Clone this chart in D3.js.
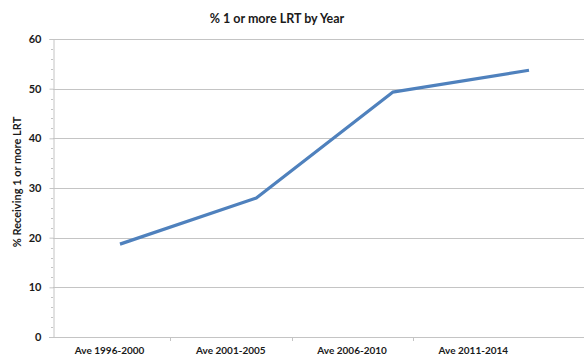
<!DOCTYPE html>
<html>
<head>
<meta charset="utf-8">
<script src="https://cdn.jsdelivr.net/npm/d3@7/dist/d3.min.js"></script>
<style>
  html, body { margin: 0; padding: 0; background: #fff; }
  svg { display: block; }
  text { font-family: Lato, "Open Sans", sans-serif; font-weight: bold; fill: #1a1a1a; }
</style>
</head>
<body>
<svg id="chart" width="584" height="356"></svg>
<script>
// Period averages
const categories = ["Ave 1996-2000", "Ave 2001-2005", "Ave 2006-2010", "Ave 2011-2014"];
const values = [18.7, 28.0, 49.3, 53.7];
const yTicks = [0, 10, 20, 30, 40, 50, 60];
const yMinorTicks = d3.range(0, 61, 2);
const title = "% 1 or more LRT by Year";
const yTitle = "% Receiving 1 or more LRT";

const svg = d3.select("#chart");
const plot = { left: 53, right: 584, top: 39, bottom: 337 };

const y = d3.scaleLinear().domain([0, 60]).range([plot.bottom, plot.top]);
// Category bands for the axis labels
const xBand = d3.scaleBand().domain(categories).range([49, 534]).padding(0);
// Positions of the plotted points along the category axis
const xPoint = d3.scalePoint().domain(categories).range([120, 529]);

// Horizontal gridlines
svg.append("g")
  .selectAll("line")
  .data(yTicks.filter(d => d > 0))
  .join("line")
  .attr("x1", plot.left).attr("x2", plot.right)
  .attr("y1", d => Math.round(y(d)) + 0.5).attr("y2", d => Math.round(y(d)) + 0.5)
  .attr("stroke", "#c4c4c4").attr("stroke-width", 1);

// Y axis: minor ticks
svg.append("g")
  .selectAll("line")
  .data(yMinorTicks.filter(d => d % 10 !== 0))
  .join("line")
  .attr("x1", plot.left - 2).attr("x2", plot.left)
  .attr("y1", d => Math.round(y(d)) + 0.5).attr("y2", d => Math.round(y(d)) + 0.5)
  .attr("stroke", "#c4c4c4");

// Y axis: main line, ticks and labels
const yAxis = d3.axisLeft(y).tickValues(yTicks).tickSize(4).tickPadding(8).tickFormat(d3.format("d"));
const gy = svg.append("g").attr("transform", `translate(${plot.left + 0.5},0)`).call(yAxis);
gy.select(".domain").attr("stroke", "#c4c4c4");
gy.selectAll(".tick line").attr("stroke", "#c4c4c4");
gy.selectAll(".tick text").attr("font-size", 11).attr("font-family", "Lato, sans-serif").attr("fill", "#1a1a1a");

// X axis baseline extending across the plot
svg.append("line")
  .attr("x1", 49).attr("x2", plot.right)
  .attr("y1", Math.round(y(0)) + 0.5).attr("y2", Math.round(y(0)) + 0.5)
  .attr("stroke", "#c4c4c4");

// X axis: ticks at band edges
const edges = categories.map(c => xBand(c)).slice(1);
svg.append("g")
  .selectAll("line")
  .data(edges)
  .join("line")
  .attr("x1", d => Math.round(d) + 0.5).attr("x2", d => Math.round(d) + 0.5)
  .attr("y1", Math.round(y(0))).attr("y2", Math.round(y(0)) + 4)
  .attr("stroke", "#c4c4c4");

// X axis labels
svg.append("g")
  .selectAll("text")
  .data(categories)
  .join("text")
  .attr("x", d => xBand(d) + xBand.bandwidth() / 2)
  .attr("y", 354)
  .attr("text-anchor", "middle")
  .attr("font-size", 10)
  .text(d => d);

// Series line
const line = d3.line()
  .x((d, i) => xPoint(categories[i]))
  .y(d => y(d));
svg.append("path")
  .datum(values)
  .attr("d", line)
  .attr("fill", "none")
  .attr("stroke", "#4F81BD")
  .attr("stroke-width", 3.2)
  .attr("stroke-linejoin", "round");

// Title
svg.append("text")
  .attr("x", 277).attr("y", 23)
  .attr("text-anchor", "middle")
  .attr("font-size", 12.5)
  .text(title);

// Y axis title
svg.append("text")
  .attr("transform", `translate(21,182) rotate(-90)`)
  .attr("text-anchor", "middle")
  .attr("font-size", 11)
  .text(yTitle);
</script>
</body>
</html>
